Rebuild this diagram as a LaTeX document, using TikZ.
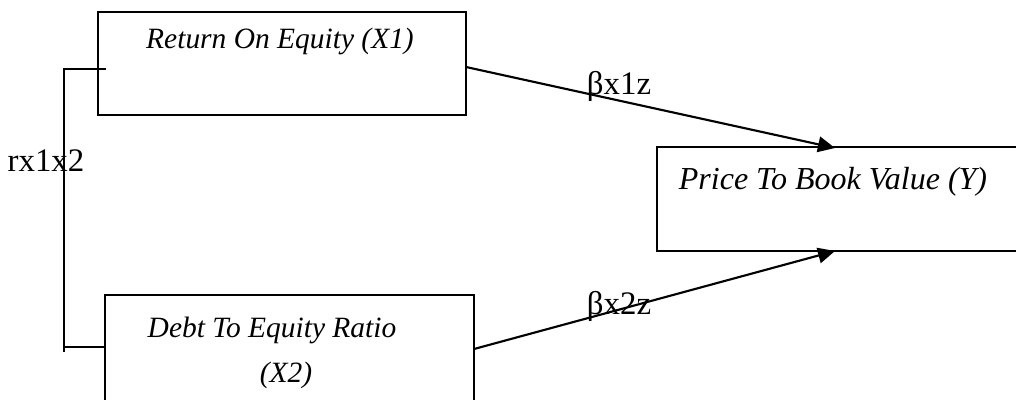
\documentclass[tikz,border=0pt]{standalone}
\usepackage{fontspec}
\setmainfont{Liberation Serif}
\usetikzlibrary{arrows.meta}
\begin{document}
\begin{tikzpicture}[x=0.353pt,y=-0.353pt,
  box/.style={draw,line width=0.75pt,inner sep=0pt},
  boxtext/.style={font=\itshape\fontsize{10.4}{14}\selectfont,inner sep=0pt},
  coef/.style={font=\fontsize{11.6}{14}\selectfont,inner sep=0pt},
  link/.style={line width=0.75pt},
  path/.style={line width=0.75pt,-{Triangle[length=6pt,width=5.5pt]}}]
\useasboundingbox (0,0) rectangle (1016,399);
% variable boxes
\draw[box] (98,12) rectangle (466,115);
\draw[box] (105,295) rectangle (474,420);
\draw[box] (657,147) rectangle (1030,251);
\coordinate (x1) at (466,67);
\coordinate (x2) at (474,349);
\coordinate (ytop) at (835,148);
\coordinate (ybot) at (835,251);
% box captions
\node[boxtext] (t1) at (280,41) {Return On Equity (X1)};
\node[boxtext] (t2a) at (272,330) {Debt To Equity Ratio};
\node[boxtext] (t2b) at (286,375) {(X2)};
\node[boxtext,font=\itshape\fontsize{11.3}{14}\selectfont] (t3) at (833,182) {Price To Book Value (Y)};
% correlation bracket
\coordinate (b1) at (106,69);
\coordinate (b2) at (106,347);
\coordinate (c1) at (64,69);
\coordinate (c2) at (64,347);
\draw[link] (b1) -- (c1) -- (64,352);
\draw[link] (c2) -- (b2);
\node[coef] (r) at (46,161) {rx1x2};
% regression paths
\draw[path] (x1) -- (ytop);
\draw[path] (x2) -- (ybot);
\node[coef] (k1) at (619,86) {βx1z};
\node[coef] (k2) at (619,306) {βx2z};
\end{tikzpicture}
\end{document}
